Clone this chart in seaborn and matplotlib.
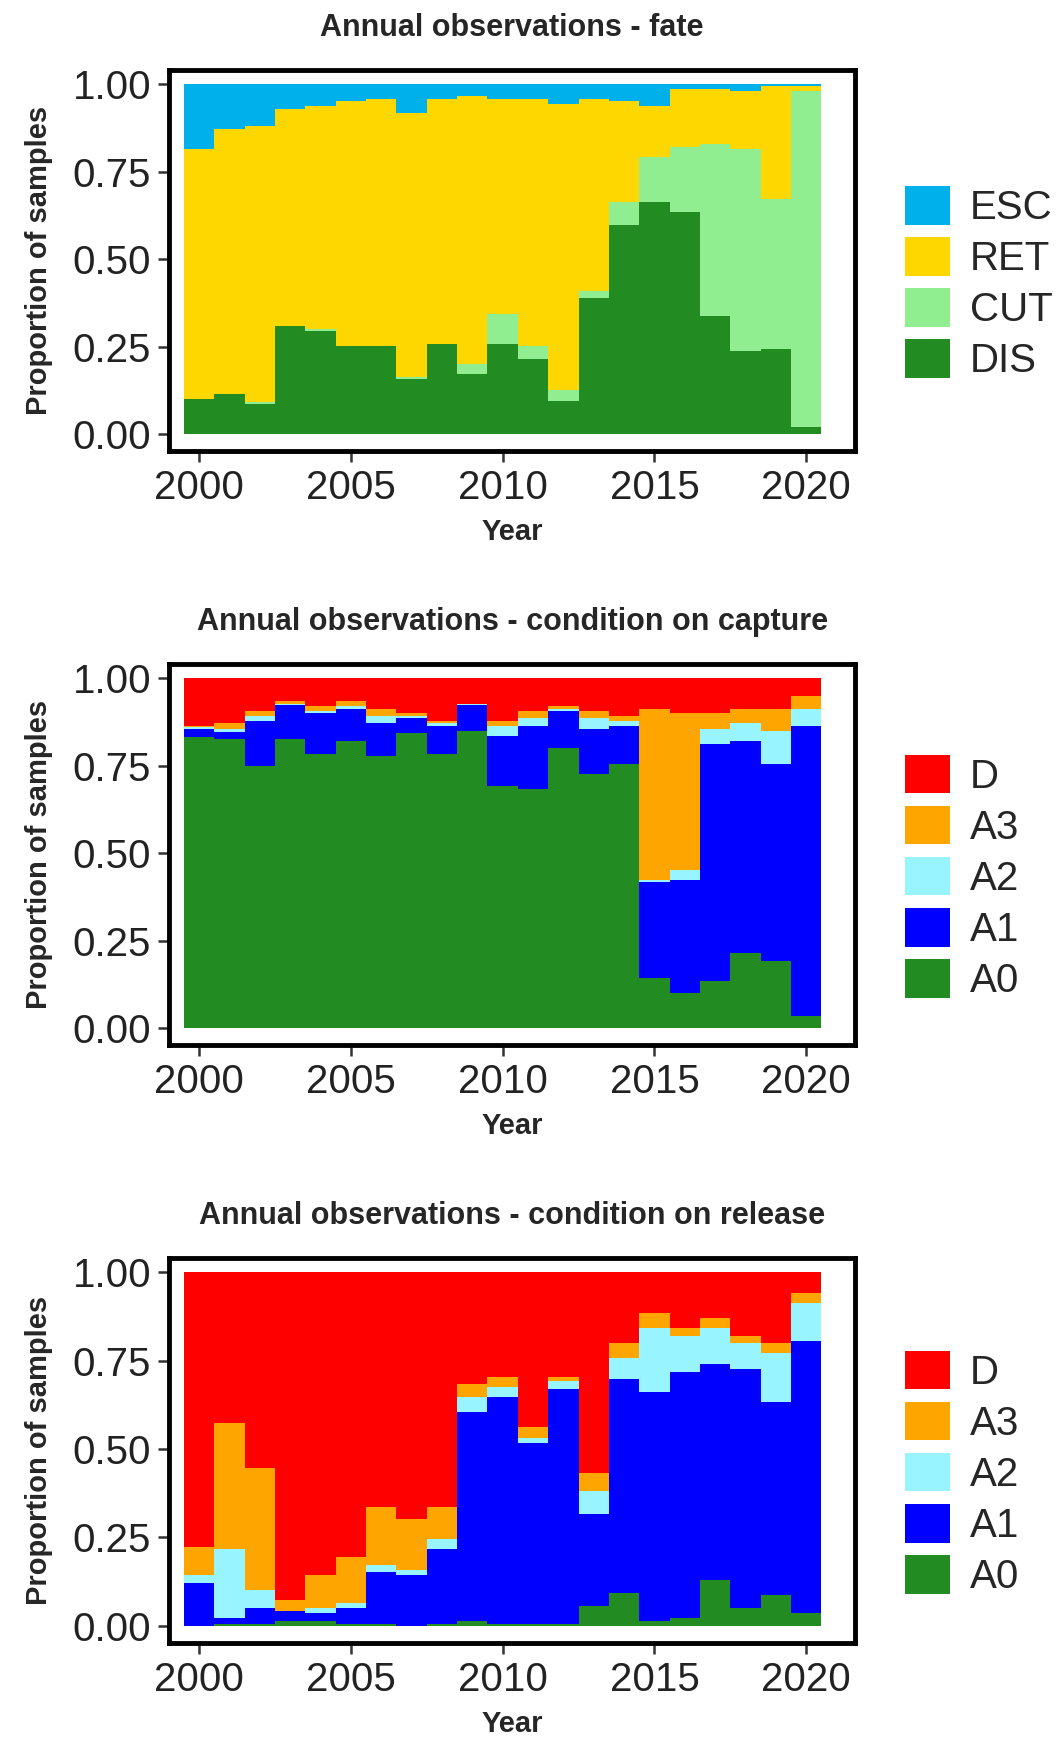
import numpy as np
import pandas as pd
import matplotlib
matplotlib.use("Agg")
import matplotlib.pyplot as plt
import seaborn as sns

years = list(range(2000, 2021))

# Panel 1 (fate): cumulative tops of stacked layers, bottom to top
fate_dis = [0.10,0.115,0.088,0.309,0.295,0.252,0.252,0.158,0.259,0.173,0.259,0.216,0.094,0.389,0.598,0.662,0.634,0.339,0.238,0.245,0.021]
fate_cut = [0.10,0.115,0.093,0.309,0.301,0.252,0.252,0.165,0.259,0.202,0.345,0.252,0.128,0.410,0.662,0.793,0.821,0.828,0.814,0.671,0.980]
fate_ret = [0.814,0.871,0.879,0.929,0.937,0.951,0.958,0.916,0.958,0.966,0.958,0.958,0.944,0.958,0.951,0.937,0.987,0.987,0.980,0.994,0.994]

# Panel 2 (condition on capture): cumulative tops A0, A1, A2, A3
cap_a0 = [0.833,0.826,0.748,0.826,0.784,0.820,0.777,0.842,0.784,0.848,0.691,0.683,0.799,0.726,0.754,0.143,0.100,0.135,0.215,0.193,0.035]
cap_a1 = [0.855,0.847,0.878,0.922,0.899,0.913,0.871,0.885,0.864,0.922,0.835,0.864,0.906,0.856,0.864,0.418,0.423,0.812,0.820,0.755,0.863]
cap_a2 = [0.859,0.855,0.892,0.927,0.906,0.920,0.892,0.892,0.871,0.927,0.864,0.885,0.913,0.885,0.878,0.423,0.452,0.855,0.871,0.848,0.913]
cap_a3 = [0.863,0.871,0.906,0.934,0.921,0.934,0.913,0.899,0.878,0.927,0.878,0.906,0.920,0.906,0.892,0.913,0.899,0.899,0.913,0.913,0.949]

# Panel 3 (condition on release): cumulative tops A0, A1, A2, A3
rel_a0 = [0.0,0.005,0.005,0.012,0.012,0.005,0.005,0.0,0.005,0.012,0.005,0.005,0.005,0.057,0.093,0.012,0.021,0.129,0.051,0.086,0.035]
rel_a1 = [0.121,0.022,0.051,0.043,0.035,0.051,0.151,0.143,0.216,0.604,0.647,0.518,0.669,0.317,0.698,0.662,0.719,0.741,0.727,0.634,0.805]
rel_a2 = [0.143,0.216,0.100,0.043,0.051,0.065,0.172,0.157,0.244,0.647,0.676,0.532,0.691,0.381,0.756,0.842,0.820,0.842,0.799,0.771,0.913]
rel_a3 = [0.222,0.574,0.446,0.072,0.143,0.194,0.337,0.302,0.337,0.683,0.705,0.561,0.705,0.431,0.799,0.885,0.842,0.870,0.820,0.799,0.942]

fate_labels = ["ESC", "RET", "CUT", "DIS"]
fate_colors = ["#00B0EA", "#FFD700", "#90EE90", "#228B22"]
cond_labels = ["D", "A3", "A2", "A1", "A0"]
cond_colors = ["#FF0000", "#FFA500", "#98F5FF", "#0000FF", "#228B22"]


def long_df(cum_tops, labels_bottom_up):
    rows = []
    tops = list(cum_tops) + [[1.0] * len(years)]
    prev = [0.0] * len(years)
    for lab, t in zip(labels_bottom_up, tops):
        for y, p, c in zip(years, prev, t):
            rows.append({"Year": y, "cat": lab, "prop": max(c - p, 0.0)})
        prev = t
    return pd.DataFrame(rows)


sns.set_theme(style="white")
plt.rcParams["font.family"] = ["Liberation Sans", "DejaVu Sans"]

fig = plt.figure(figsize=(10.58, 17.42), dpi=100)
boxes = [(0.741, 0.960), (0.400, 0.619), (0.057, 0.278)]
panels = [
    ("Annual observations - fate", long_df([fate_dis, fate_cut, fate_ret], fate_labels[::-1]), fate_labels, fate_colors),
    ("Annual observations - condition on capture", long_df([cap_a0, cap_a1, cap_a2, cap_a3], cond_labels[::-1]), cond_labels, cond_colors),
    ("Annual observations - condition on release", long_df([rel_a0, rel_a1, rel_a2, rel_a3], cond_labels[::-1]), cond_labels, cond_colors),
]

for (b, t), (title, df, labels, colors) in zip(boxes, panels):
    ax = fig.add_axes([0.160, b, 0.648, t - b])
    sns.histplot(data=df, x="Year", weights="prop", hue="cat", hue_order=labels,
                 palette=colors, multiple="stack", discrete=True, shrink=1.0,
                 linewidth=0, alpha=1, ax=ax, legend=False)
    ax.set_xlim(1999.02, 2021.6)
    ax.set_ylim(-0.048, 1.041)
    ax.set_xticks([2000, 2005, 2010, 2015, 2020])
    ax.set_yticks([0, 0.25, 0.5, 0.75, 1.0])
    ax.set_yticklabels(["0.00", "0.25", "0.50", "0.75", "1.00"])
    ax.tick_params(axis="both", which="both", direction="out", length=8, width=1.8,
                   color="#333333", labelsize=29, labelcolor="#222222", left=True, bottom=True, pad=5)
    for s in ax.spines.values():
        s.set_edgecolor("black")
        s.set_linewidth(3.5)
    ax.set_xlabel("Year", fontsize=21, fontweight="bold", labelpad=8)
    ax.set_ylabel("Proportion of samples", fontsize=21, fontweight="bold", labelpad=14)
    ax.set_title(title, fontsize=22, fontweight="bold", pad=24)
    handles = [plt.Rectangle((0, 0), 1, 1, facecolor=c, edgecolor="none") for c in colors]
    ax.legend(handles, labels, loc="center left", bbox_to_anchor=(1.05, 0.44), frameon=False,
              fontsize=29, handlelength=1.1, handleheight=1.1, handletextpad=0.5, labelspacing=0.25,
              borderaxespad=0)

fig.savefig("out.png", dpi=100)
